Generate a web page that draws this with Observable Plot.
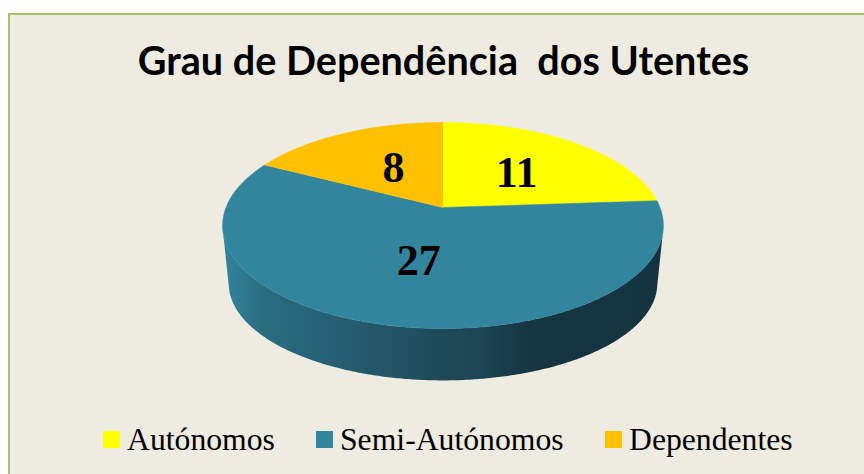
<!DOCTYPE html>
<html lang="pt">
<head>
<meta charset="utf-8">
<script src="https://cdn.jsdelivr.net/npm/d3@7"></script>
<script src="https://cdn.jsdelivr.net/npm/@observablehq/plot@0.6"></script>
<style>
  html, body { margin: 0; padding: 0; background: #fff; width: 864px; height: 474px; overflow: hidden; }
  #frame { position: absolute; left: 8px; top: 13px; width: 900px; height: 500px; box-sizing: border-box;
           background: #EEECE1; border: 2px solid #A5C36B; }
  #page { position: absolute; left: 0; top: 0; width: 864px; height: 474px; }
  #title { height: 105px; box-sizing: border-box; padding-top: 40px; padding-left: 23px; text-align: center; white-space: pre;
           font: bold 39.6px/1 Lato, Carlito, sans-serif; color: #000; }
  #chart svg { display: block; background: transparent; }
  #legend { position: absolute; left: 0; top: 0; width: 864px; }
  .sw { position: absolute; top: 431px; width: 17px; height: 17px; }
  .lb { position: absolute; top: 423px; font: 31.7px/34px "Liberation Serif", serif; color: #000; white-space: pre; }
</style>
</head>
<body>
<div id="frame"></div>
<div id="page">
  <div id="title">Grau de Dependência  dos Utentes</div>
  <div id="chart"></div>
  <div id="legend"></div>
</div>
<script>
// Data
const categorias = ["Autónomos", "Semi-Autónomos", "Dependentes"];
const valores = [11, 27, 8];
const cores = ["#FFFF00", "#31859C", "#FFC000"];

// Camera of the 3D pie: projects a point (u, v) of the unit disc on a level of the cylinder
const persp = 0.1748;
const cx = 442.5;
const nivelTopo = {k: 217, a: -63.7, b: 207};
const nivelBase = {k: 211, a: -47.5, b: 266};
function projeta(angulo, raio, nivel) {
  const u = raio * Math.sin(angulo), v = raio * Math.cos(angulo), w = persp * v + 1;
  return {x: cx + nivel.k * u / w, y: (nivel.a * v + nivel.b) / w};
}

const fatias = d3.pie().sort(null).value((_, i) => valores[i])(categorias);
const passo = Math.PI / 180 / 2;

// Outline samples of each slice on the top face
const topo = fatias.flatMap((f) => {
  const pts = [{categoria: f.data, ...projeta(0, 0, nivelTopo)}];
  for (let a = f.startAngle; a < f.endAngle; a += passo) pts.push({categoria: f.data, ...projeta(a, 1, nivelTopo)});
  pts.push({categoria: f.data, ...projeta(f.endAngle, 1, nivelTopo)});
  return pts;
});

// Visible side wall: only the front part of the rim, between the two silhouette tangents
const tangente = 1.77;
const parede = fatias.flatMap((f) => {
  const a0 = Math.max(f.startAngle, tangente), a1 = Math.min(f.endAngle, 2 * Math.PI - tangente);
  if (a1 <= a0) return [];
  const arcos = d3.range(a0, a1, passo).concat(a1);
  return [
    ...arcos.map((a) => ({categoria: f.data, ...projeta(a, 1, nivelTopo)})),
    ...arcos.slice().reverse().map((a) => ({categoria: f.data, ...projeta(a, 1, nivelBase)}))
  ];
});

// Data labels, centred half way along each slice's bisector, nudged as in the picture
const desvioRotulo = [4, 0, 3];
const rotulos = fatias.map((f, i) => {
  const p = projeta((f.startAngle + f.endAngle) / 2, 0.5, nivelTopo);
  return {valor: String(valores[i]), x: p.x + desvioRotulo[i], y: p.y};
});

const topoSvg = 105, alturaSvg = 290;

function gradiente() {
  const defs = d3.create("svg:defs");
  const g = defs.append("linearGradient").attr("id", "lateral")
    .attr("gradientUnits", "userSpaceOnUse")
    .attr("x1", 222).attr("x2", 663).attr("y1", 0).attr("y2", 0);
  [[0, "#31859C"], [0.1, "#296C80"], [0.33, "#24596A"], [0.5, "#1D4A58"], [0.58, "#1D4553"], [0.7, "#143541"], [1, "#133440"]]
    .forEach(([o, c]) => g.append("stop").attr("offset", o).attr("stop-color", c));
  return defs.node();
}

const grafico = Plot.plot({
  width: 864,
  height: alturaSvg,
  margin: 0,
  style: {background: "transparent"},
  x: {domain: [0, 864], range: [0, 864], axis: null},
  y: {domain: [topoSvg, topoSvg + alturaSvg], range: [0, alturaSvg], axis: null},
  color: {domain: categorias, range: cores},
  marks: [
    gradiente,
    Plot.line(parede, {x: "x", y: "y", z: "categoria", fill: "url(#lateral)", stroke: "none"}),
    Plot.line(topo, {x: "x", y: "y", z: "categoria", fill: "categoria", stroke: "categoria", strokeWidth: 0.5}),
    Plot.text(rotulos, {
      x: "x", y: "y", text: "valor", fill: "#000",
      fontFamily: "Liberation Serif", fontWeight: "bold", fontSize: 44
    })
  ]
});
document.getElementById("chart").append(grafico);

// Legend
const posSw = [103, 316, 605];
const posLb = [127, 340, 629];
const legenda = d3.select("#legend");
categorias.forEach((c, i) => {
  legenda.append("div").attr("class", "sw").style("left", posSw[i] + "px").style("background", cores[i]);
  legenda.append("div").attr("class", "lb").style("left", posLb[i] + "px").text(c);
});
</script>
</body>
</html>
